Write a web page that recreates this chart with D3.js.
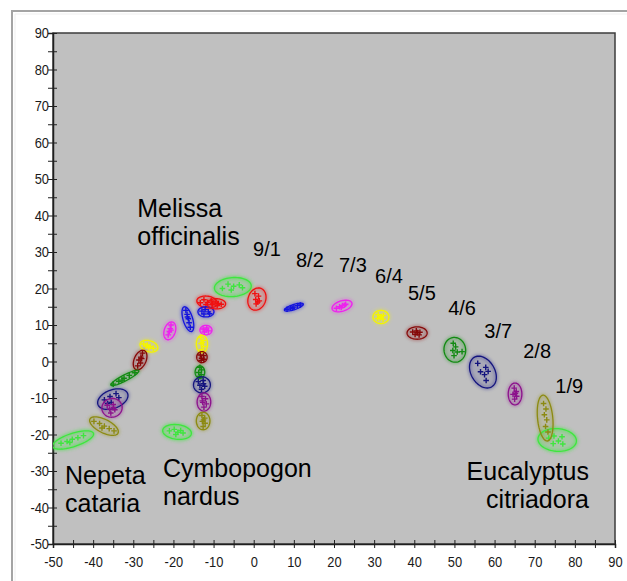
<!DOCTYPE html>
<html>
<head>
<meta charset="utf-8">
<script src="https://cdn.jsdelivr.net/npm/d3@7/dist/d3.min.js"></script>
<style>
  html, body { margin: 0; padding: 0; background: #ffffff; }
  svg { display: block; }
  .tick text { font-family: "Liberation Sans", Arial, sans-serif; }
</style>
</head>
<body>
<svg id="chart" width="627" height="581"></svg>
<script>
// ---- axis ranges and ticks ----
const xDomain = [-50, 90];
const yDomain = [-50, 90];
const tickStep = 5;
const labelStep = 10;

// ---- blend ratios (Melissa / partner) and their colours ----
const ratios = ["9/1", "8/2", "7/3", "6/4", "5/5", "4/6", "3/7", "2/8", "1/9"];
const ratioColors = ["#f01010", "#1414dc", "#ee22ee", "#f4f400", "#860808", "#128a12", "#14147e", "#8c128c", "#8c8a12"];
const pureColor = "#3ee63e";

// ---- pure oils: ellipse [cx, cy, semi-major, semi-minor, angle°] and scores ----
const pureNames = ["Melissa", "Eucalyptus", "Cymbopogon", "Nepeta"];
const pureEllipses = [
  [-5.2, 20.4, 4.6, 2.6, 5],
  [75.6, -21.5, 4.8, 3.1, -5],
  [-19.1, -19.3, 3.6, 2.0, -8],
  [-45.0, -21.5, 5.4, 1.8, 20]
];
const purePoints = [
  [[-7.8, 20.0], [-6.4, 21.2], [-5.0, 20.6], [-3.6, 21.0], [-5.6, 19.6], [-2.8, 20.2]],
  [[73.5, -21.0], [74.8, -20.4], [75.9, -21.8], [77.0, -22.6], [76.8, -20.6], [74.6, -22.5]],
  [[-21.0, -19.0], [-19.8, -18.6], [-18.9, -19.4], [-17.6, -19.6], [-19.4, -20.0], [-18.2, -18.9]],
  [[-48.0, -22.4], [-46.5, -21.9], [-45.2, -21.3], [-43.8, -20.9], [-42.4, -20.3], [-45.8, -22.2]]
];

// ---- Melissa + Eucalyptus blends (9/1 ... 1/9) ----
const eucalyptusEllipses = [
  [0.8, 17.1, 3.1, 2.2, 75],
  [10.0, 14.9, 2.5, 0.7, 20],
  [22.0, 15.2, 2.6, 1.4, 20],
  [31.7, 12.2, 2.0, 1.8, 0],
  [40.7, 7.8, 2.5, 1.7, 0],
  [50.1, 3.2, 3.4, 2.7, 95],
  [57.1, -2.9, 4.6, 3.0, -65],
  [65.1, -8.9, 3.0, 1.7, 90],
  [72.6, -15.5, 6.3, 1.9, 95]
];
const eucalyptusPoints = [
  [[0.3, 18.6], [1.2, 17.9], [0.5, 17.0], [1.4, 16.6], [0.6, 15.8], [1.0, 16.3]],
  [[8.3, 14.3], [9.2, 14.7], [10.0, 14.9], [10.9, 15.3], [11.6, 15.5], [9.6, 14.6]],
  [[20.6, 14.6], [21.4, 15.0], [22.1, 15.3], [22.9, 15.7], [21.8, 14.8], [22.6, 15.4]],
  [[31.0, 12.8], [32.3, 12.6], [31.5, 11.9], [32.2, 11.6], [31.8, 12.3], [30.9, 11.8]],
  [[39.6, 8.1], [40.5, 8.4], [41.4, 8.0], [40.2, 7.4], [41.2, 7.3], [40.8, 7.9]],
  [[49.7, 5.0], [50.3, 4.0], [49.6, 3.0], [50.7, 2.6], [49.9, 1.6], [51.9, 2.7]],
  [[55.8, -0.5], [57.8, -1.6], [56.5, -2.8], [57.5, -3.6], [58.4, -2.7], [57.9, -5.2]],
  [[64.9, -7.3], [65.4, -8.2], [64.6, -9.0], [65.5, -9.5], [65.0, -10.3], [65.2, -8.7]],
  [[72.2, -11.5], [72.8, -13.0], [72.4, -14.6], [73.0, -16.0], [72.7, -17.8], [73.3, -19.3]]
];

// ---- Melissa + Cymbopogon blends (9/1 ... 1/9) ----
const cymbopogonEllipses = [
  [-11.6, 16.3, 2.6, 1.6, -10],
  [-11.9, 13.6, 2.0, 1.4, 0],
  [-11.9, 8.6, 1.5, 1.3, 0],
  [-12.9, 4.8, 2.4, 1.4, 90],
  [-12.9, 1.2, 1.5, 1.3, 90],
  [-13.4, -2.9, 1.7, 1.2, 90],
  [-12.9, -6.4, 2.2, 2.1, 90],
  [-12.4, -11.1, 2.5, 1.7, 90],
  [-12.6, -16.3, 2.4, 1.7, 90]
];
const cymbopogonPoints = [
  [[-13.3, 16.1], [-12.4, 16.9], [-11.5, 16.2], [-10.6, 16.6], [-11.9, 15.6], [-10.2, 15.8]],
  [[-12.9, 13.8], [-12.1, 14.2], [-11.3, 13.6], [-12.4, 13.0], [-11.0, 13.1]],
  [[-12.6, 8.9], [-11.7, 9.2], [-11.3, 8.4], [-12.3, 8.1], [-11.8, 8.7]],
  [[-13.2, 6.6], [-12.6, 5.8], [-13.1, 4.9], [-12.5, 4.1], [-13.0, 3.2], [-12.8, 5.2]],
  [[-13.3, 1.8], [-12.5, 1.6], [-13.0, 0.9], [-12.4, 0.6], [-13.1, 0.3]],
  [[-13.4, -1.6], [-13.0, -2.3], [-13.7, -3.0], [-13.1, -3.6], [-13.5, -4.1]],
  [[-13.8, -5.5], [-12.6, -5.2], [-13.4, -6.5], [-12.2, -6.8], [-13.0, -7.6], [-12.5, -6.1]],
  [[-12.9, -9.6], [-12.0, -10.2], [-12.7, -11.2], [-11.8, -11.6], [-12.4, -12.5], [-12.8, -10.8]],
  [[-12.9, -14.8], [-12.2, -15.5], [-12.8, -16.4], [-12.1, -16.9], [-12.6, -17.8], [-12.5, -16.0]]
];

// ---- Melissa + Nepeta blends (9/1 ... 1/9) ----
const nepetaEllipses = [
  [-9.3, 15.8, 2.3, 1.4, 0],
  [-16.4, 11.6, 3.5, 1.2, 105],
  [-20.9, 8.4, 2.5, 1.4, 75],
  [-26.1, 4.2, 2.3, 1.5, -20],
  [-28.3, 0.4, 2.8, 1.5, 70],
  [-32.1, -4.5, 4.0, 0.8, 30],
  [-35.1, -10.3, 4.0, 2.5, 25],
  [-35.3, -12.7, 2.6, 2.5, 60],
  [-37.3, -17.7, 4.0, 1.8, -30]
];
const nepetaPoints = [
  [[-10.4, 15.6], [-9.6, 16.3], [-8.8, 15.9], [-9.1, 15.3], [-8.1, 15.7]],
  [[-16.9, 14.0], [-16.6, 12.9], [-16.3, 11.7], [-16.1, 10.6], [-15.8, 9.4], [-16.5, 12.2]],
  [[-20.6, 10.0], [-20.8, 9.0], [-21.0, 8.2], [-21.3, 7.3], [-20.6, 8.6]],
  [[-27.4, 4.8], [-26.5, 4.5], [-25.8, 4.1], [-25.0, 3.6], [-26.2, 3.8], [-26.8, 4.2]],
  [[-27.7, 2.3], [-28.1, 1.2], [-28.6, 0.4], [-28.2, -0.4], [-28.9, -1.2], [-27.9, 0.8]],
  [[-35.0, -6.2], [-33.6, -5.4], [-32.3, -4.6], [-31.0, -3.8], [-29.6, -3.1], [-32.8, -5.1]],
  [[-37.2, -10.5], [-35.8, -9.6], [-34.3, -8.8], [-35.5, -11.2], [-33.6, -9.9], [-36.4, -11.5]],
  [[-36.5, -12.0], [-35.0, -11.8], [-35.9, -13.0], [-34.6, -13.2], [-35.6, -14.1], [-34.9, -12.6]],
  [[-39.8, -16.4], [-38.4, -17.0], [-37.2, -17.7], [-36.0, -18.4], [-34.8, -19.0], [-37.8, -18.2]]
];

// ---- annotations: [text lines, x, y (data units, first baseline), anchor] ----
const speciesLabels = [
  [["Melissa", "officinalis"], -29.0, 39.6, "start"],
  [["Nepeta", "cataria"], -47.0, -33.6, "start"],
  [["Cymbopogon", "nardus"], -22.6, -31.6, "start"],
  [["Eucalyptus", "citriadora"], 83.5, -32.6, "end"]
];
const ratioLabelX = [3.3, 14.0, 24.7, 33.7, 41.9, 51.9, 60.9, 70.6, 78.6];
const ratioLabelY = [28.9, 25.9, 24.5, 21.5, 16.8, 12.7, 6.4, 1.0, -8.6];

// ---------------------------------------------------------------
const svg = d3.select("#chart");
const W = 627, H = 581;
const plot = { left: 53, top: 33, right: 615, bottom: 544 };

const x = d3.scaleLinear().domain(xDomain).range([plot.left, plot.right]);
const y = d3.scaleLinear().domain(yDomain).range([plot.bottom, plot.top]);

// panel frame
svg.append("rect").attr("width", W).attr("height", H).attr("fill", "#ffffff");
svg.append("path")
  .attr("d", `M12,${H} L12,11 L${W},11`)
  .attr("fill", "none").attr("stroke", "#a4a4a4").attr("stroke-width", 2);
svg.append("path")
  .attr("d", `M15,${H} L15,14 L${W},14`)
  .attr("fill", "none").attr("stroke", "#efefef").attr("stroke-width", 1);

// plot background
svg.append("rect")
  .attr("x", plot.left).attr("y", plot.top)
  .attr("width", plot.right - plot.left).attr("height", plot.bottom - plot.top)
  .attr("fill", "#c0c0c0").attr("stroke", "#3c3c3c").attr("stroke-width", 1.5);

const defs = svg.append("defs");
defs.append("filter").attr("id", "soft").attr("x", "-50%").attr("y", "-50%").attr("width", "200%").attr("height", "200%")
  .append("feGaussianBlur").attr("stdDeviation", 1.6);
defs.append("clipPath").attr("id", "plotClip").append("rect")
  .attr("x", plot.left).attr("y", plot.top)
  .attr("width", plot.right - plot.left).attr("height", plot.bottom - plot.top);

// axes
const allTicks = d3.range(yDomain[0], yDomain[1] + 0.1, tickStep);
const fmt = d => (d % labelStep === 0 ? String(d) : "");
const tickFont = 15, tickSqueeze = 0.86;

const yAxis = svg.append("g").attr("transform", `translate(${plot.left},0)`)
  .call(d3.axisLeft(y).tickValues(allTicks).tickFormat(fmt).tickSize(5).tickPadding(0));
yAxis.select(".domain").attr("stroke", "#202020").attr("stroke-width", 1.5);
yAxis.selectAll(".tick line").attr("x1", 4).attr("x2", -5).attr("stroke", "#202020");
yAxis.selectAll(".tick text").attr("font-size", tickFont).attr("fill", "#1a1a1a")
  .attr("x", -4 / tickSqueeze).attr("transform", `scale(${tickSqueeze},1)`);

const xTicks = d3.range(xDomain[0], xDomain[1] + 0.1, tickStep);
const xAxis = svg.append("g").attr("transform", `translate(0,${plot.bottom})`)
  .call(d3.axisBottom(x).tickValues(xTicks).tickFormat(fmt).tickSize(4).tickPadding(9));
xAxis.select(".domain").attr("stroke", "#202020").attr("stroke-width", 1.5);
xAxis.selectAll(".tick line").attr("y1", -4).attr("y2", 4).attr("stroke", "#202020");
xAxis.selectAll(".tick text").attr("font-size", tickFont).attr("fill", "#1a1a1a")
  .attr("y", 12).attr("transform", `scale(${tickSqueeze},1)`);

// confidence ellipse outline in data space, projected through the scales
function ellipsePath(e) {
  const [cx, cy, a, b, deg] = e;
  const phi = deg * Math.PI / 180;
  const pts = d3.range(0, 64).map(i => {
    const t = (i / 64) * 2 * Math.PI;
    const ex = a * Math.cos(t), ey = b * Math.sin(t);
    return [cx + ex * Math.cos(phi) - ey * Math.sin(phi), cy + ex * Math.sin(phi) + ey * Math.cos(phi)];
  });
  return d3.line().x(p => x(p[0])).y(p => y(p[1])).curve(d3.curveLinearClosed)(pts);
}

const groups = [];
pureEllipses.forEach((e, i) => groups.push({ ellipse: e, points: purePoints[i], color: pureColor, pure: true }));
[eucalyptusEllipses, cymbopogonEllipses, nepetaEllipses].forEach((set, k) => {
  const pts = [eucalyptusPoints, cymbopogonPoints, nepetaPoints][k];
  set.forEach((e, i) => groups.push({ ellipse: e, points: pts[i], color: ratioColors[i], pure: false }));
});

const marks = svg.append("g").attr("clip-path", "url(#plotClip)");

// soft glow around each ellipse
marks.append("g").attr("filter", "url(#soft)")
  .selectAll("path").data(groups).join("path")
  .attr("d", d => ellipsePath(d.ellipse))
  .attr("fill", d => d.color).attr("fill-opacity", d => d.pure ? 0.18 : 0.12)
  .attr("stroke", d => d.color).attr("stroke-opacity", d => d.pure ? 0.45 : 0.25)
  .attr("stroke-width", 4);

const grp = marks.selectAll("g.group").data(groups).join("g").attr("class", "group");
grp.append("path")
  .attr("d", d => ellipsePath(d.ellipse))
  .attr("fill", "none").attr("stroke", d => d.color).attr("stroke-width", 1.3);

const cross = 2.8;
grp.selectAll("path.pt").data(d => d.points.map(p => ({ p, color: d.color }))).join("path")
  .attr("class", "pt")
  .attr("d", d => {
    const px = x(d.p[0]), py = y(d.p[1]);
    return `M${px - cross},${py}H${px + cross}M${px},${py - cross}V${py + cross}`;
  })
  .attr("stroke", d => d.color).attr("stroke-width", 1.4);

// species names
const speciesFont = 25, lineGap = 28;
svg.append("g").selectAll("text").data(speciesLabels).join("text")
  .attr("x", d => x(d[1])).attr("y", d => y(d[2]))
  .attr("text-anchor", d => d[3])
  .attr("font-family", "Liberation Sans, Arial, sans-serif")
  .attr("font-size", speciesFont).attr("fill", "#000")
  .each(function (d) {
    d3.select(this).selectAll("tspan").data(d[0]).join("tspan")
      .attr("x", x(d[1])).attr("dy", (t, i) => i === 0 ? 0 : lineGap)
      .text(t => t);
  });

// blend ratio labels
svg.append("g").selectAll("text").data(ratios).join("text")
  .attr("x", (d, i) => x(ratioLabelX[i])).attr("y", (d, i) => y(ratioLabelY[i]))
  .attr("text-anchor", "middle")
  .attr("font-family", "Liberation Sans, Arial, sans-serif")
  .attr("font-size", 20).attr("fill", "#000")
  .text(d => d);
</script>
</body>
</html>
